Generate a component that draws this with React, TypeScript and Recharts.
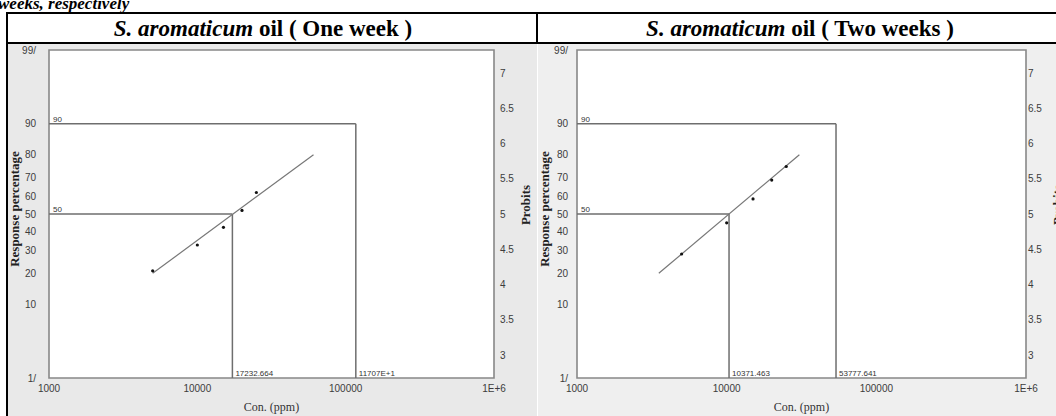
import { ComposedChart, Line, Scatter, XAxis, YAxis, ReferenceLine, ReferenceArea } from "recharts";

// concentration axis (log) and the two probability / probit axes
const CONC_TICKS = [1000, 10000, 100000, 1000000];
const PCT_TICKS = [1, 10, 20, 30, 40, 50, 60, 70, 80, 90, 99];
const PROBIT_TICKS = [3, 3.5, 4, 4.5, 5, 5.5, 6, 6.5, 7];

const DOSES = [5000, 10000, 15000, 20000, 25000];
const WEEK1_RESPONSE = [21, 33, 42.5, 52, 62];
const WEEK2_RESPONSE = [28.5, 45, 58.5, 68.5, 75];

// fitted probit line end points (20% .. 80%)
const FIT_PCT = [20, 80];
const WEEK1_FIT_CONC = [5000, 60700];
const WEEK2_FIT_CONC = [3520, 30600];

// LC50 / LC90
const LC_LEVELS = [50, 90];
const WEEK1_LC = [17232.664, 117070];
const WEEK1_LC_TEXT = ["17232.664", "11707E+1"];
const WEEK2_LC = [10371.463, 53777.641];
const WEEK2_LC_TEXT = ["10371.463", "53777.641"];

// percent -> probit (normal equivalent deviate + 5)
function probit(pct: number) {
  const p = pct / 100;
  const q = p < 0.5 ? p : 1 - p;
  const t = Math.sqrt(-2 * Math.log(q));
  const z = t - (2.515517 + 0.802853 * t + 0.010328 * t * t) / (1 + 1.432788 * t + 0.189269 * t * t + 0.001308 * t * t * t);
  return 5 + (p < 0.5 ? -z : z);
}

const Y_MIN = probit(1);
const Y_MAX = probit(99);
const pctTicks = PCT_TICKS.map(probit);
const pctLabel = (v: number) => {
  const i = pctTicks.findIndex((t) => Math.abs(t - v) < 1e-6);
  const pct = PCT_TICKS[i];
  return pct === 1 || pct === 99 ? `${pct}/` : `${pct}`;
};
const concLabel = (v: number) => (v >= 1000000 ? "1E+6" : `${v}`);

const tickStyle = { fontSize: 10, fill: "#3c3c3c", fontFamily: "Liberation Sans, Arial, sans-serif" };
const small = { fontSize: 8, fill: "#333", fontFamily: "Liberation Sans, Arial, sans-serif" };
const axisTitle = { fontSize: 13, fontWeight: "bold" as const, fill: "#222", fontFamily: "Liberation Serif, serif" };

type PanelProps = {
  width: number;
  bg: string;
  leftW: number;
  rightW: number;
  leftMargin: number;
  rightMargin: number;
  response: number[];
  fitConc: number[];
  lc: number[];
  lcText: string[];
};

function ProbitPanel(p: PanelProps) {
  const points = DOSES.map((c, i) => ({ c, p: probit(p.response[i]) }));
  const fit = p.fitConc.map((c, i) => ({ c, p: probit(FIT_PCT[i]) }));
  return (
    <div style={{ width: p.width, height: 372, background: p.bg }}>
      <ComposedChart width={p.width} height={372} margin={{ top: 6, right: 0, bottom: 0, left: 0 }}>
        <XAxis
          dataKey="c"
          type="number"
          scale="log"
          domain={[1000, 1000000]}
          allowDataOverflow
          ticks={CONC_TICKS}
          interval={0}
          tickFormatter={concLabel}
          height={38}
          tickSize={0}
          tickMargin={7}
          axisLine={false}
          tick={tickStyle}
          label={(props: any) => {
            const vb = props.viewBox;
            return (
              <text x={vb.x + vb.width / 2} y={vb.y + 29} textAnchor="middle" dominantBaseline="central" fontSize={12} fill="#333" fontFamily="Liberation Serif, serif">
                Con. (ppm)
              </text>
            );
          }}
        />
        <YAxis
          yAxisId="pct"
          dataKey="p"
          type="number"
          domain={[Y_MIN, Y_MAX]}
          allowDataOverflow
          ticks={pctTicks}
          interval={0}
          tickFormatter={pctLabel}
          width={p.leftW}
          tickSize={0}
          tickMargin={p.leftMargin}
          axisLine={false}
          tick={tickStyle}
          label={(props: any) => {
            const vb = props.viewBox;
            const cx = vb.x + 6;
            const cy = vb.y + vb.height / 2 - 5;
            return (
              <text x={cx} y={cy} transform={`rotate(-90 ${cx} ${cy})`} textAnchor="middle" dominantBaseline="central" {...axisTitle}>
                Response percentage
              </text>
            );
          }}
        />
        <YAxis
          yAxisId="prb"
          orientation="right"
          type="number"
          domain={[Y_MIN, Y_MAX]}
          allowDataOverflow
          ticks={PROBIT_TICKS}
          interval={0}
          width={p.rightW}
          tickSize={0}
          tickMargin={p.rightMargin}
          axisLine={false}
          tick={tickStyle}
          label={(props: any) => {
            const vb = props.viewBox;
            const cx = vb.x + 31;
            const cy = vb.y + vb.height / 2 - 9;
            return (
              <text x={cx} y={cy} transform={`rotate(-90 ${cx} ${cy})`} textAnchor="middle" dominantBaseline="central" {...axisTitle}>
                Probits
              </text>
            );
          }}
        />
        <ReferenceArea yAxisId="pct" x1={1000} x2={1000000} y1={Y_MIN} y2={Y_MAX} fill="#fff" fillOpacity={1} stroke="#888" strokeWidth={1.6} />
        <ReferenceArea yAxisId="prb" x1={1000} x2={1000000} y1={Y_MIN} y2={Y_MAX} fill="none" stroke="none" />
        {LC_LEVELS.map((lvl, i) => (
          <ReferenceLine
            key={`h${lvl}`}
            yAxisId="pct"
            segment={[{ x: 1000, y: probit(lvl) }, { x: p.lc[i], y: probit(lvl) }]}
            stroke="#6e6e6e"
            strokeWidth={1.5}
            label={(props: any) => (
              <text x={props.viewBox.x + 4} y={props.viewBox.y - 2} {...small}>
                {lvl}
              </text>
            )}
          />
        ))}
        {LC_LEVELS.map((lvl, i) => (
          <ReferenceLine
            key={`v${lvl}`}
            yAxisId="pct"
            segment={[{ x: p.lc[i], y: probit(lvl) }, { x: p.lc[i], y: Y_MIN }]}
            stroke="#6e6e6e"
            strokeWidth={1.5}
            label={(props: any) => (
              <text x={props.viewBox.x + 3} y={props.viewBox.y + props.viewBox.height - 2} {...small}>
                {p.lcText[i]}
              </text>
            )}
          />
        ))}
        <Line yAxisId="pct" data={fit} dataKey="p" type="linear" stroke="#777" strokeWidth={1.2} dot={false} activeDot={false} isAnimationActive={false} />
        <Scatter
          yAxisId="pct"
          data={points}
          dataKey="p"
          isAnimationActive={false}
          shape={(s: any) => <circle cx={s.cx} cy={s.cy} r={1.6} fill="#111" />}
        />
      </ComposedChart>
    </div>
  );
}

export default function App() {
  return (
    <div style={{ position: "absolute", left: 0, top: 0, width: 1056, height: 416, overflow: "hidden", background: "#fff", fontFamily: "Liberation Serif, 'Times New Roman', serif" }}>
      <div style={{ position: "absolute", left: -2, top: -5, fontSize: 17, lineHeight: "17px", fontWeight: "bold", fontStyle: "italic", whiteSpace: "nowrap" }}>
        weeks, respectively
      </div>
      <div style={{ position: "absolute", left: 6, top: 12, width: 1060, height: 2, background: "#000" }} />
      <div style={{ position: "absolute", left: 6, top: 42, width: 1060, height: 2, background: "#000" }} />
      <div style={{ position: "absolute", left: 6, top: 12, width: 2, height: 410, background: "#000" }} />
      <div style={{ position: "absolute", left: 536, top: 12, width: 2, height: 32, background: "#000" }} />
      <div style={{ position: "absolute", left: 0, top: 15, width: 526, lineHeight: "28px", textAlign: "center", fontSize: 23, fontWeight: "bold", whiteSpace: "nowrap" }}>
        <i>S. aromaticum</i> oil ( One week )
      </div>
      <div style={{ position: "absolute", left: 538, top: 15, width: 524, lineHeight: "28px", textAlign: "center", fontSize: 23, fontWeight: "bold", whiteSpace: "nowrap" }}>
        <i>S. aromaticum</i> oil ( Two weeks )
      </div>
      <div style={{ position: "absolute", left: 8, top: 44 }}>
        <ProbitPanel width={529} bg="#e9e9e9" leftW={41} rightW={43} leftMargin={13} rightMargin={6} response={WEEK1_RESPONSE} fitConc={WEEK1_FIT_CONC} lc={WEEK1_LC} lcText={WEEK1_LC_TEXT} />
      </div>
      <div style={{ position: "absolute", left: 538, top: 44 }}>
        <ProbitPanel width={528} bg="#efefef" leftW={39} rightW={40} leftMargin={9} rightMargin={2} response={WEEK2_RESPONSE} fitConc={WEEK2_FIT_CONC} lc={WEEK2_LC} lcText={WEEK2_LC_TEXT} />
      </div>
    </div>
  );
}
